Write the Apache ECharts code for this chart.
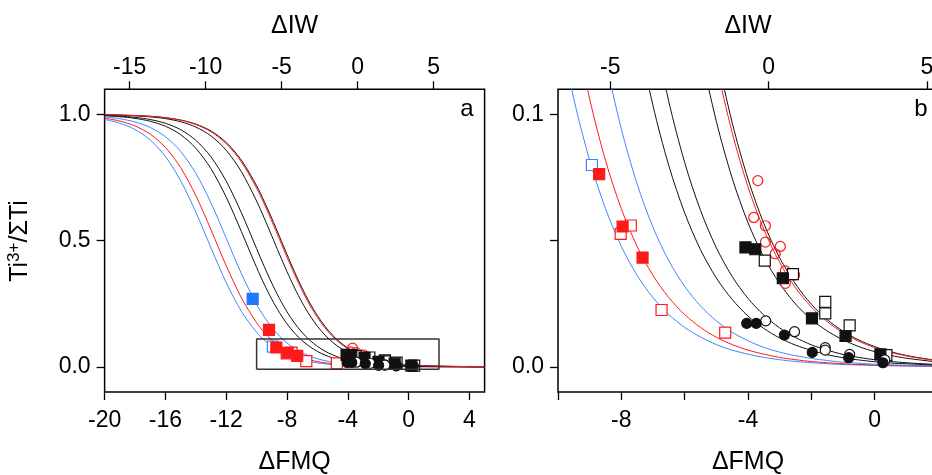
<!DOCTYPE html>
<html><head><meta charset="utf-8">
<script src="https://cdn.jsdelivr.net/npm/echarts@6/dist/echarts.min.js"></script>
<style>html,body{margin:0;padding:0;background:#fff}#c{width:932px;height:475px}</style>
</head><body><div id="c"></div>
<script>
// ---- curve data (Ti3+/ΣTi vs ΔFMQ) ----
const curveX = [-20,-19,-18,-17,-16,-15,-14,-13,-12,-11,-10,-9.5,-9,-8.5,-8,-7.5,-7,-6.5,-6,-5.5,-5,-4.5,-4,-3.5,-3,-2.5,-2,-1.5,-1,-0.5,0,0.5,1,1.5,2,3,4,5];
const blueCurve1 = [0.9804,0.9657,0.9406,0.8991,0.8337,0.7381,0.6131,0.4713,0.3339,0.2199,0.1368,0.1062,0.0818,0.0627,0.0477,0.0362,0.0274,0.0207,0.0156,0.0118,0.0088,0.0066,0.0050,0.0037,0.0028,0.0021,0.0016,0.0012,0.0009,0.0007,0.0005,0.0004,0.0003,0.0002,0.0002,0.0001,0.0000,0.0000];
const redCurve1 = [0.9853,0.9741,0.9548,0.9224,0.8698,0.7898,0.6788,0.5431,0.4006,0.2732,0.1745,0.1368,0.1062,0.0818,0.0626,0.0477,0.0362,0.0274,0.0207,0.0156,0.0117,0.0088,0.0066,0.0050,0.0037,0.0028,0.0021,0.0016,0.0012,0.0009,0.0007,0.0005,0.0004,0.0003,0.0002,0.0001,0.0001,0.0000];
const blueCurve2 = [0.9905,0.9832,0.9705,0.9487,0.9123,0.8541,0.7670,0.6493,0.5100,0.3692,0.2476,0.1980,0.1562,0.1219,0.0943,0.0724,0.0553,0.0420,0.0319,0.0241,0.0182,0.0137,0.0103,0.0077,0.0058,0.0044,0.0033,0.0025,0.0018,0.0014,0.0010,0.0008,0.0006,0.0004,0.0003,0.0002,0.0001,0.0001];
const blackCurve1 = [0.9952,0.9914,0.9848,0.9733,0.9536,0.9203,0.8666,0.7850,0.6725,0.5359,0.3937,0.3275,0.2675,0.2150,0.1704,0.1334,0.1035,0.0797,0.0610,0.0464,0.0352,0.0267,0.0201,0.0152,0.0114,0.0086,0.0065,0.0048,0.0036,0.0027,0.0020,0.0015,0.0012,0.0009,0.0006,0.0004,0.0002,0.0001];
const blackCurve2 = [0.9964,0.9937,0.9888,0.9802,0.9653,0.9400,0.8981,0.8320,0.7359,0.6104,0.4684,0.3979,0.3313,0.2709,0.2179,0.1728,0.1355,0.1051,0.0810,0.0620,0.0472,0.0358,0.0271,0.0205,0.0154,0.0116,0.0087,0.0066,0.0049,0.0037,0.0028,0.0021,0.0016,0.0012,0.0009,0.0005,0.0003,0.0002];
const blackCurve3 = [0.9984,0.9971,0.9948,0.9908,0.9838,0.9715,0.9504,0.9151,0.8584,0.7731,0.6571,0.5897,0.5187,0.4470,0.3773,0.3125,0.2542,0.2035,0.1608,0.1257,0.0973,0.0748,0.0571,0.0435,0.0330,0.0249,0.0188,0.0142,0.0107,0.0080,0.0060,0.0045,0.0034,0.0026,0.0019,0.0011,0.0006,0.0003];
const blackCurve4 = [0.9988,0.9978,0.9961,0.9931,0.9877,0.9784,0.9621,0.9346,0.8893,0.8188,0.7176,0.6558,0.5883,0.5173,0.4455,0.3760,0.3112,0.2531,0.2026,0.1601,0.1250,0.0968,0.0744,0.0568,0.0432,0.0328,0.0248,0.0187,0.0141,0.0106,0.0080,0.0060,0.0045,0.0034,0.0025,0.0014,0.0008,0.0005];
const redCurve2 = [0.9987,0.9977,0.9959,0.9927,0.9871,0.9774,0.9604,0.9317,0.8847,0.8118,0.7082,0.6454,0.5771,0.5058,0.4342,0.3653,0.3015,0.2445,0.1953,0.1540,0.1201,0.0928,0.0713,0.0544,0.0414,0.0313,0.0237,0.0179,0.0135,0.0101,0.0076,0.0057,0.0043,0.0032,0.0024,0.0014,0.0008,0.0004];

// ---- measured points [ΔFMQ, Ti3+/ΣTi] ----
const blueFilledSq = [[-10.26,0.269]];
const blueOpenSq = [[-8.93,0.080]];
const redOpenSq = [[-7.70,0.0560],[-8.02,0.0527],[-6.73,0.0225],[-4.72,0.0135]];
const redFilledSq = [[-9.18,0.146],[-8.70,0.0764],[-7.96,0.0556],[-7.33,0.0433]];
const redOpenCircle = [[-3.69,0.0738],[-3.82,0.0592],[-3.45,0.0559],[-3.45,0.0494],[-2.98,0.0477],[-3.14,0.0448],[-2.82,0.0380],[-2.53,0.0364],[-2.82,0.0331]];
const blackOpenSq = [[-3.47,0.0421],[-2.58,0.0367],[-1.56,0.0257],[-1.56,0.0212],[-0.79,0.0164],[0.37,0.0046]];
const blackFilledSq = [[-4.08,0.0473],[-3.77,0.0466],[-2.90,0.0351],[-1.98,0.0192],[-0.92,0.0122],[0.18,0.0049]];
const blackOpenCircle = [[-3.44,0.0182],[-2.53,0.0139],[-1.56,0.0076],[-1.56,0.0066],[-0.79,0.0049],[0.32,0.0027]];
const blackFilledCircle = [[-4.04,0.0172],[-3.74,0.0172],[-2.85,0.0126],[-1.97,0.0057],[-0.82,0.0036],[0.26,0.0016]];

// ---- axes ----
const fmqRangeA = [-20,5];
const fmqTicksA = [-20,-16,-12,-8,-4,0,4];
const iwRangeA = [-16.65,8.35];
const iwTicksA = [-15,-10,-5,0,5];
const yRangeA = [-0.1,1.1];
const yTicksA = [0,0.5,1];
const fmqRangeB = [-10,2];          // also the zoom box drawn in panel a
const fmqTicksB = [-10,-8,-6,-4,-2,0,2];
const fmqLabelsB = [-8,-4,0];
const iwRangeB = [-6.65,5.35];
const iwTicksB = [-5,0,5];
const yRangeB = [-0.01,0.11];        // also the zoom box drawn in panel a
const yTicksB = [0,0.05,0.1];
const yLabelsB = [0,0.1];

const FONT = 'Liberation Sans, Arial, Helvetica, sans-serif';
const BLUE = '#3f86ff', RED = '#ff1a1a', BLACK = '#111';

function xAx(gi, pos, range, ticks, labels, name, margin) {
  return {
    type:'value', gridIndex:gi, position:pos, min:range[0], max:range[1],
    name:name, nameLocation:'middle', nameGap: pos==='bottom'?58:51,
    nameTextStyle:{fontFamily:FONT, fontSize:25, color:'#000'},
    splitLine:{show:false}, axisLine:{show:false, onZero:false},
    axisTick:{show:true, inside:false, length:8, customValues:ticks, lineStyle:{color:'#000', width:1.3}},
    axisLabel:{show:true, customValues:labels, margin:margin, fontFamily:FONT, fontSize:23, color:'#000', formatter:v=>String(v)}
  };
}
function yAx(gi, range, ticks, labels) {
  return {
    type:'value', gridIndex:gi, min:range[0], max:range[1],
    splitLine:{show:false}, axisLine:{show:false, onZero:false},
    axisTick:{show:true, inside:false, length:8, customValues:ticks, lineStyle:{color:'#000', width:1.3}},
    axisLabel:{show:true, customValues:labels, margin:14, fontFamily:FONT, fontSize:23, color:'#000', formatter:v=>v.toFixed(1)}
  };
}

const curves = [
  [blueCurve1, BLUE],[redCurve1, RED],[blueCurve2, BLUE],
  [blackCurve1, BLACK],[blackCurve2, BLACK],[blackCurve3, BLACK],
  [blackCurve4, BLACK],[redCurve2, RED]
];
const points = [
  [blueOpenSq,'rect','#fff',BLUE,11],
  [blueFilledSq,'rect','#2277ff','#2277ff',11],
  [redOpenSq,'rect','#fff',RED,11],
  [redFilledSq,'rect',RED,RED,11],
  [redOpenCircle,'circle','rgba(0,0,0,0)',RED,10],
  [blackOpenSq,'rect','#fff',BLACK,11],
  [blackFilledSq,'rect',BLACK,BLACK,11],
  [blackOpenCircle,'circle','#fff',BLACK,10],
  [blackFilledCircle,'circle',BLACK,BLACK,10]
];

const series = [];
[[0,0],[2,1]].forEach(([xi,yi])=>{
  curves.forEach(([ys,col])=>{
    series.push({type:'line', xAxisIndex:xi, yAxisIndex:yi, data:curveX.map((x,i)=>[x,ys[i]]),
      showSymbol:false, smooth:0.3, lineStyle:{color:col, width:1}, z:2, silent:true, clip:true});
  });
  points.forEach(([d,sym,fill,stroke,sz])=>{
    series.push({type:'scatter', xAxisIndex:xi, yAxisIndex:yi, data:d, symbol:sym, symbolSize:sz,
      itemStyle:{color:fill, borderColor:stroke, borderWidth:1.2, opacity:1}, z:3, silent:true, clip:true});
  });
});
// zoom box in panel a
series.push({type:'line', xAxisIndex:0, yAxisIndex:0, showSymbol:false, z:4, silent:true,
  data:[[fmqRangeB[0],yRangeB[0]],[fmqRangeB[1],yRangeB[0]],[fmqRangeB[1],yRangeB[1]],[fmqRangeB[0],yRangeB[1]],[fmqRangeB[0],yRangeB[0]]],
  lineStyle:{color:'#333', width:1.5}});

const chart = echarts.init(document.getElementById('c'), null, {renderer:'canvas'});
chart.setOption({
  animation:false,
  backgroundColor:'#fff',
  grid:[
    {left:104.6, top:89.3, width:380, height:302.7, show:true, borderColor:'#000', borderWidth:1.5, backgroundColor:'transparent', containLabel:false, outerBoundsMode:'none'},
    {left:558, top:89.3, width:380, height:302.7, show:true, borderColor:'#000', borderWidth:1.5, backgroundColor:'transparent', containLabel:false, outerBoundsMode:'none'}
  ],
  xAxis:[
    xAx(0,'bottom',fmqRangeA,fmqTicksA,fmqTicksA,'ΔFMQ',17),
    xAx(0,'top',iwRangeA,iwTicksA,iwTicksA,'ΔIW',10),
    xAx(1,'bottom',fmqRangeB,fmqTicksB,fmqLabelsB,'ΔFMQ',17),
    xAx(1,'top',iwRangeB,iwTicksB,iwTicksB,'ΔIW',10)
  ],
  yAxis:[ yAx(0,yRangeA,yTicksA,yTicksA), yAx(1,yRangeB,yTicksB,yLabelsB) ],
  graphic:[
    {type:'text', x:20, y:241, rotation:Math.PI/2, silent:true,
     style:{text:'{a|Ti}{s|3+}{a|/ΣTi}', align:'center', verticalAlign:'middle',
       rich:{a:{fontFamily:FONT, fontSize:25, fill:'#000', lineHeight:28}, s:{fontFamily:FONT, fontSize:17, fill:'#000', verticalAlign:'top', lineHeight:28}}}},
    {type:'text', x:467, y:109, silent:true, style:{text:'a', fontFamily:FONT, fontSize:24, fill:'#000', align:'center', verticalAlign:'middle'}},
    {type:'text', x:921, y:109, silent:true, style:{text:'b', fontFamily:FONT, fontSize:24, fill:'#000', align:'center', verticalAlign:'middle'}}
  ],
  series:series
});
</script></body></html>
